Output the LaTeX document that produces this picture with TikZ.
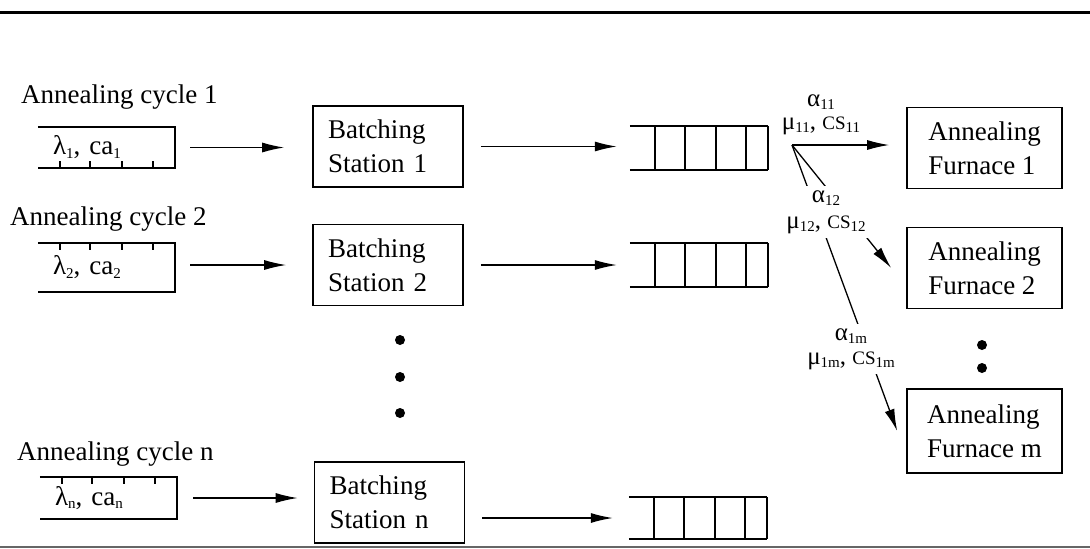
\documentclass[tikz,border=0pt]{standalone}
\usepackage{fontspec}
\setmainfont{Liberation Serif}
\usetikzlibrary{arrows.meta}

% small lowered index used in the labels
\newcommand{\ix}[1]{\raisebox{-0.12em}{\fontsize{15}{15}\selectfont #1}}
\newcommand{\smc}[1]{{\fontsize{19}{19}\selectfont #1}}

\begin{document}
\begin{tikzpicture}[x=1pt,y=-1pt,
  every node/.style={font=\fontsize{27}{34}\selectfont},
  cyclelab/.style={anchor=west, inner sep=0pt},
  buffer/.style={minimum height=41pt, text width=107pt, inner xsep=15pt, inner ysep=0pt, align=left},
  bufline/.style={line width=1.6pt},
  stationbox/.style={draw, line width=1.6pt, minimum height=81pt, text width=120pt, inner xsep=15pt, align=left},
  furnacebox/.style={draw, line width=1.6pt, minimum height=81pt, minimum width=155pt, align=left},
  queuebox/.style={minimum width=138pt, minimum height=44pt, inner sep=0pt},
  flow/.style={line width=1.3pt, -{Latex[length=22pt,width=10pt]}},
  rate/.style={font=\fontsize{25}{26}\selectfont, align=center, inner sep=1pt},
  ratecut/.style={rate, fill=white, inner xsep=3pt, inner ysep=4pt},
  dot/.style={circle, fill, inner sep=0pt, minimum size=10pt},
]
\useasboundingbox (0,0) rectangle (1090,549);

% rules above and below
\draw[line width=3pt] (0,12) -- (1090,12);
\draw[line width=2pt, black!60] (0,547) -- (1090,547);

% ---- arrival streams ----
\node[cyclelab] (c1) at (21,97) {Annealing cycle 1};
\node[cyclelab] (c2) at (10,219) {Annealing cycle 2};
\node[cyclelab] (cn) at (17,454) {Annealing cycle n};

\node[buffer] (b1) at (106.5,147.5) {λ\ix{1}, ca\ix{1}};
\node[buffer, minimum height=49pt] (b2) at (106.5,267.5) {λ\ix{2}, ca\ix{2}};
\node[buffer, minimum height=42pt] (bn) at (108.5,498) {λ\ix{n}, ca\ix{n}};

\foreach \b in {b1,b2,bn}
  \draw[bufline] (\b.north west) -- (\b.north east) -- (\b.south east) -- (\b.south west);
\foreach \x in {22,52,84,115} {
  \draw[bufline] ([xshift=\x]b1.south west) -- ++(0,-7);
  \draw[bufline] ([xshift=\x]b2.north west) -- ++(0,7);
  \draw[bufline] ([xshift=\x]bn.north west) -- ++(0,7);
}

% ---- batching stations ----
\node[stationbox] (s1) at (388,146.5) {Batching\\Station 1};
\node[stationbox] (s2) at (388,265) {Batching\\Station 2};
\node[stationbox] (sn) at (389.5,502.5) {Batching\\Station n};

\draw[flow] ([xshift=15]b1.east) -- ([xshift=-28]s1.west |- b1.east);
\draw[flow] ([xshift=15]b2.east |- s2.west) -- ([xshift=-26]s2.west);
\draw[flow] ([xshift=16]bn.east) -- ([xshift=-16]sn.west |- bn.east);

\node[dot] (d1) at (400,340) {};
\node[dot] (d2) at (400,377) {};
\node[dot] (d3) at (400,413) {};

% ---- queues ----
\node[queuebox] (q1) at (699,148) {};
\node[queuebox] (q2) at (699,265) {};
\node[queuebox, minimum height=42pt] (qn) at (698,518) {};

\foreach \q in {q1,q2,qn} {
  \draw[bufline] (\q.north west) -- (\q.north east);
  \draw[bufline] (\q.south west) -- (\q.south east);
  \foreach \x in {25,55,86,116,138}
    \draw[bufline] ([xshift=\x]\q.north west) -- ([xshift=\x]\q.south west);
}

\draw[flow] ([xshift=17]s1.east) -- ([xshift=-13]q1.west |- s1.east);
\draw[flow] ([xshift=17]s2.east) -- ([xshift=-13]q2.west);
\draw[flow] ([xshift=17]sn.east |- qn.west) -- ([xshift=-16]qn.west);

% ---- annealing furnaces ----
\node[furnacebox] (f1) at (984.5,148) {Annealing\\Furnace 1};
\node[furnacebox] (f2) at (984.5,268) {Annealing\\Furnace 2};
\node[furnacebox, minimum height=84pt] (fm) at (984.5,431) {Annealing\\Furnace m};

\node[dot] (d4) at (982,345) {};
\node[dot] (d5) at (982,368) {};

% ---- routing from queue 1 ----
\coordinate (br) at (792,145);
\draw[flow] (br) -- ([xshift=-17]f1.west |- br);
\draw[flow] (br) -- ([xshift=-15]f2.west);
\draw[flow] (br) -- ([xshift=-9]fm.west);

\node[rate] (r11) at (821,115) {α\ix{11}\\[-3pt]μ\ix{11}, \smc{CS}\ix{11}};
\node[ratecut] (r12) at (826,212) {α\ix{12}\\[0pt]μ\ix{12}, \smc{CS}\ix{12}};
\node[ratecut] (r1m) at (851,349) {α\ix{1m}\\[-2pt]μ\ix{1m}, \smc{CS}\ix{1m}};

\end{tikzpicture}
\end{document}
